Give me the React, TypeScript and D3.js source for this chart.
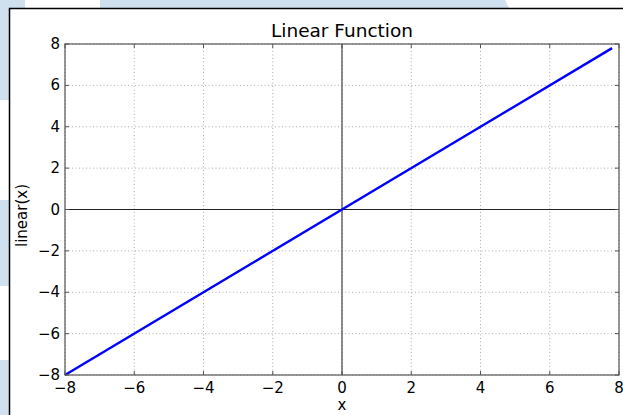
import { useEffect, useRef } from "react";
import * as d3 from "d3";

const lineX = [-8, 7.8];
const lineY = [-8, 7.8];
const xTicks = [-8, -6, -4, -2, 0, 2, 4, 6, 8];
const yTicks = [-8, -6, -4, -2, 0, 2, 4, 6, 8];

const W = 623;
const H = 415;
const margin = { left: 65, right: 4, top: 44, bottom: 40 };

const fmt = (v: number) => (v < 0 ? "\u2212" + Math.abs(v) : String(v));

export default function App() {
  const svgRef = useRef<SVGSVGElement>(null);

  useEffect(() => {
    const svg = d3.select(svgRef.current);
    svg.selectAll("*").remove();

    const font = "DejaVu Sans, sans-serif";

    // background decoration
    const bg = svg.append("g");
    bg.append("rect").attr("width", W).attr("height", H).attr("fill", "#ffffff");
    const blue = "#cfe0ee";
    bg.append("rect").attr("x", 0).attr("y", 0).attr("width", 25).attr("height", 8).attr("fill", blue);
    bg.append("path").attr("d", "M100,0 L505,0 L509,8 L100,8 Z").attr("fill", blue);
    bg.append("rect").attr("x", 0).attr("y", 0).attr("width", 9).attr("height", 100).attr("fill", blue);
    bg.append("rect").attr("x", 0).attr("y", 200).attr("width", 9).attr("height", 86).attr("fill", blue);
    bg.append("rect").attr("x", 0).attr("y", 360).attr("width", 9).attr("height", 55).attr("fill", blue);

    // figure frame
    bg.append("rect").attr("x", 9).attr("y", 8).attr("width", W).attr("height", H).attr("fill", "#fff");
    bg.append("path").attr("d", `M9.5,${H} L9.5,8.5 L${W},8.5`).attr("fill", "none").attr("stroke", "#000").attr("stroke-width", 1.5);

    const x = d3.scaleLinear().domain([-8, 8]).range([margin.left, W - margin.right]);
    const y = d3.scaleLinear().domain([-8, 8]).range([H - margin.bottom, margin.top]);

    const g = svg.append("g");

    // grid
    g.selectAll("line.gx")
      .data(xTicks)
      .join("line")
      .attr("x1", (d) => x(d)).attr("x2", (d) => x(d))
      .attr("y1", y(8)).attr("y2", y(-8))
      .attr("stroke", "#999").attr("stroke-width", 0.8).attr("stroke-dasharray", "1,2.5");
    g.selectAll("line.gy")
      .data(yTicks)
      .join("line")
      .attr("y1", (d) => y(d)).attr("y2", (d) => y(d))
      .attr("x1", x(-8)).attr("x2", x(8))
      .attr("stroke", "#999").attr("stroke-width", 0.8).attr("stroke-dasharray", "1,2.5");

    // zero axes
    g.append("line").attr("x1", x(0)).attr("x2", x(0)).attr("y1", y(8)).attr("y2", y(-8)).attr("stroke", "#444").attr("stroke-width", 1.2);
    g.append("line").attr("x1", x(-8)).attr("x2", x(8)).attr("y1", y(0)).attr("y2", y(0)).attr("stroke", "#222").attr("stroke-width", 1.2);

    // line
    const line = d3.line<number>().x((d) => x(d)).y((d, i) => y(lineY[i]));
    g.append("path").datum(lineX).attr("d", line).attr("fill", "none").attr("stroke", "#0000ff").attr("stroke-width", 2.4);

    // spines
    g.append("rect")
      .attr("x", x(-8)).attr("y", y(8))
      .attr("width", x(8) - x(-8)).attr("height", y(-8) - y(8))
      .attr("fill", "none").attr("stroke", "#555").attr("stroke-width", 1.2);

    // ticks (inward, all sides)
    const tl = 4;
    xTicks.forEach((t) => {
      g.append("line").attr("x1", x(t)).attr("x2", x(t)).attr("y1", y(-8)).attr("y2", y(-8) - tl).attr("stroke", "#555");
      g.append("line").attr("x1", x(t)).attr("x2", x(t)).attr("y1", y(8)).attr("y2", y(8) + tl).attr("stroke", "#555");
    });
    yTicks.forEach((t) => {
      g.append("line").attr("y1", y(t)).attr("y2", y(t)).attr("x1", x(-8)).attr("x2", x(-8) + tl).attr("stroke", "#555");
      g.append("line").attr("y1", y(t)).attr("y2", y(t)).attr("x1", x(8)).attr("x2", x(8) - tl).attr("stroke", "#555");
    });

    // tick labels
    g.selectAll("text.xt")
      .data(xTicks)
      .join("text")
      .attr("x", (d) => x(d)).attr("y", y(-8) + 18)
      .attr("text-anchor", "middle")
      .attr("font-family", font).attr("font-size", 15).attr("fill", "#000")
      .text(fmt);
    g.selectAll("text.yt")
      .data(yTicks)
      .join("text")
      .attr("x", x(-8) - 5).attr("y", (d) => y(d) + 5)
      .attr("text-anchor", "end")
      .attr("font-family", font).attr("font-size", 15).attr("fill", "#000")
      .text(fmt);

    // title & labels
    svg.append("text").attr("x", x(0)).attr("y", 37).attr("text-anchor", "middle")
      .attr("font-family", font).attr("font-size", 18.5).text("Linear Function");
    svg.append("text").attr("x", x(0)).attr("y", 410).attr("text-anchor", "middle")
      .attr("font-family", font).attr("font-size", 15).text("x");
    svg.append("text").attr("transform", `translate(27,${y(0) + 6}) rotate(-90)`).attr("text-anchor", "middle")
      .attr("font-family", font).attr("font-size", 15).text("linear(x)");
  }, []);

  return (
    <svg ref={svgRef} width={W} height={H} style={{ position: "absolute", left: 0, top: 0 }}></svg>
  );
}
